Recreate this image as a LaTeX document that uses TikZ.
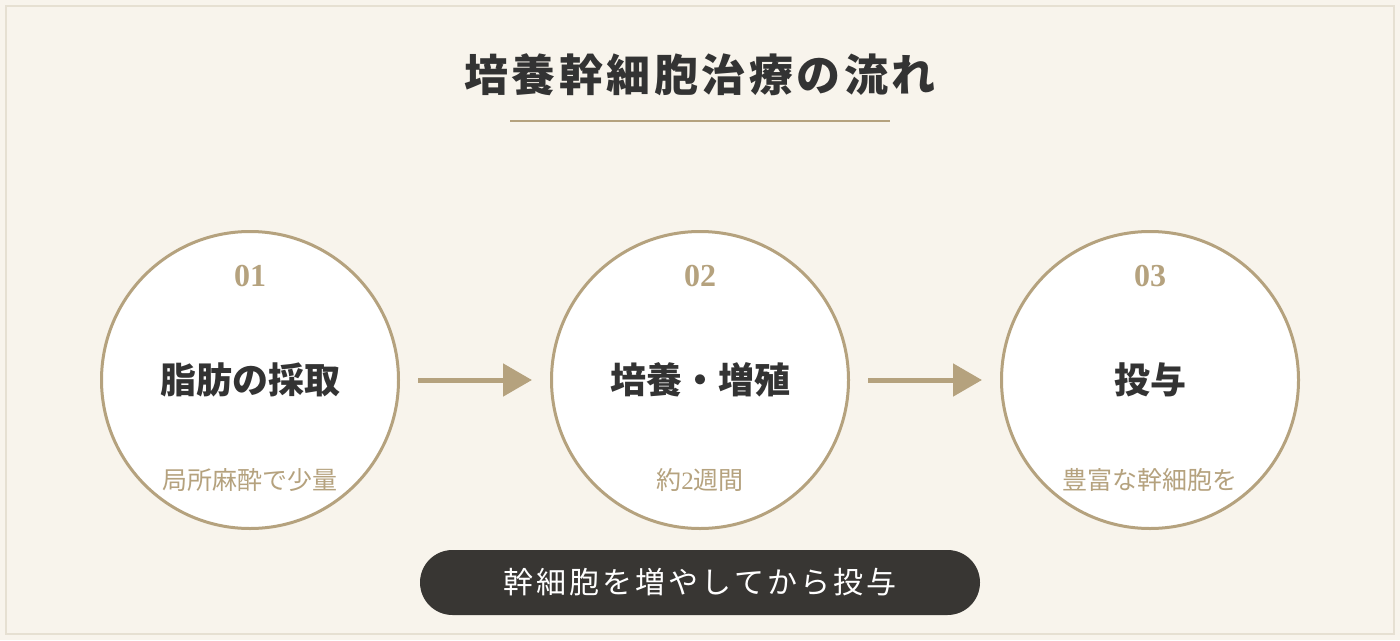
\documentclass[tikz,border=0pt]{standalone}
\usepackage{fontspec}
\setmainfont{Liberation Serif}
\newfontfamily\jpfont{Noto Sans CJK JP}
\usetikzlibrary{arrows.meta, positioning}
\definecolor{paperbeige}{HTML}{F8F4EC}
\definecolor{framegray}{HTML}{E6E0D2}
\definecolor{accentgold}{HTML}{B5A27E}
\definecolor{textdark}{HTML}{333333}
\definecolor{pilldark}{HTML}{383633}

\begin{document}
\begin{tikzpicture}[x=1pt, y=-1pt,
    stepcircle/.style={circle, draw=accentgold, line width=3pt, fill=white, minimum size=297pt, inner sep=0pt},
    stepnum/.style={font=\fontsize{32}{32}\selectfont\bfseries, text=accentgold},
    steplabel/.style={font=\jpfont\fontsize{36}{36}\selectfont\bfseries, text=textdark},
    stepnote/.style={font=\jpfont\fontsize{25}{25}\selectfont, text=accentgold},
    flowarrow/.style={draw=accentgold, line width=5pt, -{Triangle[length=29pt, width=32pt]}, shorten <=18pt, shorten >=18pt}
]
    % Background and frame
    \useasboundingbox (0,0) rectangle (1400,640);
    \fill[paperbeige] (0,0) rectangle (1400,640);
    \draw[framegray, line width=2pt] (6,6) rectangle (1394,634);

    % Title with underline
    \node[font=\jpfont\fontsize{44}{44}\selectfont\bfseries\addfontfeatures{LetterSpace=8}, text=textdark] (title) at (700,75) {培養幹細胞治療の流れ};
    \draw[accentgold, line width=2pt] (510,121) -- (890,121);

    % Step circles
    \node[stepcircle] (s1) at (250,380) {};
    \node[stepcircle] (s2) at (700,380) {};
    \node[stepcircle] (s3) at (1150,380) {};

    % Step texts
    \node[stepnum] (n1) at (250,276) {01};
    \node[steplabel] (l1) at (250,380) {脂肪の採取};
    \node[stepnote] (d1) at (250,480) {局所麻酔で少量};

    \node[stepnum] (n2) at (700,276) {02};
    \node[steplabel] (l2) at (700,380) {培養・増殖};
    \node[stepnote] (d2) at (700,480) {約{\rmfamily 2}週間};

    \node[stepnum] (n3) at (1150,276) {03};
    \node[steplabel] (l3) at (1150,380) {投与};
    \node[stepnote] (d3) at (1150,480) {豊富な幹細胞を};

    % Arrows between steps
    \draw[flowarrow] (s1) -- (s2);
    \draw[flowarrow] (s2) -- (s3);

    % Summary pill
    \node[fill=pilldark, rounded corners=32.5pt, minimum width=560pt, minimum height=65pt, text=white,
          font=\jpfont\fontsize{30}{30}\selectfont\addfontfeatures{LetterSpace=10}] (summary) at (700,582.5) {幹細胞を増やしてから投与};
\end{tikzpicture}
\end{document}
